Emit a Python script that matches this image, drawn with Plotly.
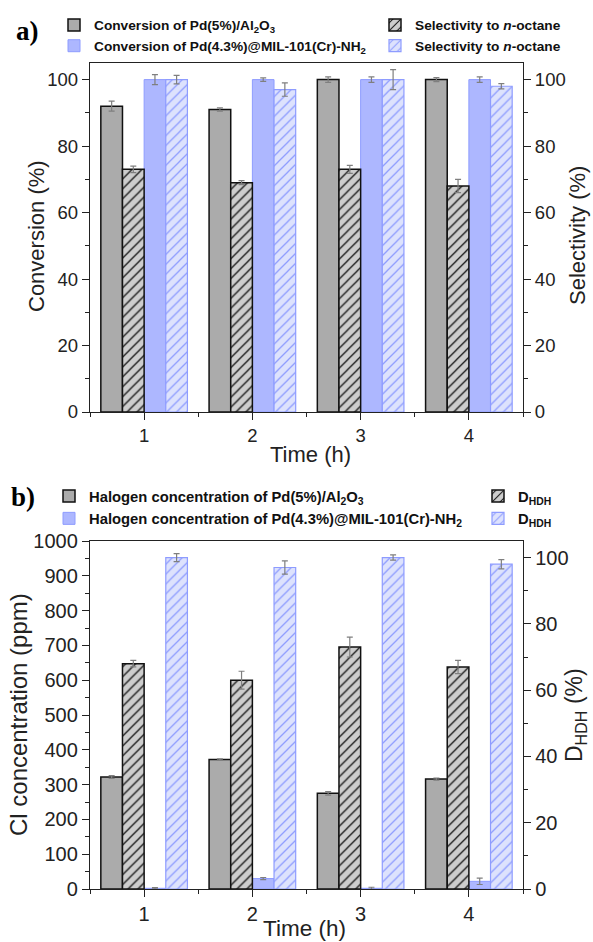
import plotly.graph_objects as go

# ---------------- data ----------------
times = [1, 2, 3, 4]

# panel a
conv_al = [92, 91, 100, 100]
conv_al_err = [1.5, 0.5, 0.8, 0.6]
sel_al = [73, 69, 73, 68]
sel_al_err = [1.0, 0.6, 1.2, 2.0]
conv_mil = [100, 100, 100, 100]
conv_mil_err = [1.5, 0.5, 0.8, 0.8]
sel_mil = [100, 97, 100, 98]
sel_mil_err = [1.3, 2.0, 3.0, 0.8]

# panel b
hal_al = [322, 372, 275, 316]
hal_al_err = [4, 2, 5, 3]
dhdh_al = [68, 63, 73, 67]
dhdh_al_err = [1.0, 2.7, 3.0, 2.0]
hal_mil = [2, 30, 2, 22]
hal_mil_err = [2, 3, 3, 9]
dhdh_mil = [100, 97, 100, 98]
dhdh_mil_err = [1.2, 2.0, 0.8, 1.4]

# ---------------- geometry helpers ----------------
W, H = 593, 942
L, R, T, B = 90, 70, 63, 53
PW, PH = W - L - R, H - T - B


def py(p):
    return (H - B - p) / PH


def px(p):
    return (p - L) / PW


FONT = "Liberation Sans, Arial, sans-serif"
SERIF = "Liberation Serif, Times New Roman, serif"
GRAY_FILL = "#ababab"
GRAY_HATCH_BG = "#cdcdcd"
BLUE_FILL = "#adb7ff"
BLUE_LINE = "#8e9cff"
BLUE_HATCH_BG = "#dde2fd"
ERR = dict(type="data", color="#7f7f7f", thickness=1.2, width=3)
INK = "#222222"

fig = go.Figure()


def add_bar(y, err, offset, name, legend, xa, ya, fill, line_color, line_w, hatch=None):
    marker = dict(color=fill, line=dict(color=line_color, width=line_w))
    if hatch is not None:
        marker["pattern"] = dict(shape="/", fgcolor=hatch, bgcolor=fill, size=7,
                                 solidity=0.18, fillmode="replace")
    fig.add_trace(go.Bar(
        x=times, y=y, width=0.2, offset=offset, name=name, legend=legend,
        xaxis=xa, yaxis=ya, marker=marker,
        error_y=dict(ERR, array=err),
    ))


# panel a
add_bar(conv_al, conv_al_err, -0.4, "Conversion of Pd(5%)/Al<sub>2</sub>O<sub>3</sub>",
        "legend", "x", "y", GRAY_FILL, "#111111", 1.5)
add_bar(sel_al, sel_al_err, -0.2, "Selectivity to <i>n</i>-octane",
        "legend2", "x", "y2", GRAY_HATCH_BG, "#111111", 1.5, hatch="#111111")
add_bar(conv_mil, conv_mil_err, 0.0, "Conversion of Pd(4.3%)@MIL-101(Cr)-NH<sub>2</sub>",
        "legend", "x", "y", BLUE_FILL, BLUE_LINE, 1)
add_bar(sel_mil, sel_mil_err, 0.2, "Selectivity to <i>n</i>-octane",
        "legend2", "x", "y2", BLUE_HATCH_BG, BLUE_LINE, 1.2, hatch=BLUE_LINE)

# panel b
add_bar(hal_al, hal_al_err, -0.4, "Halogen concentration of Pd(5%)/Al<sub>2</sub>O<sub>3</sub>",
        "legend3", "x2", "y3", GRAY_FILL, "#111111", 1.5)
add_bar(dhdh_al, dhdh_al_err, -0.2, "D<sub>HDH</sub>",
        "legend4", "x2", "y4", GRAY_HATCH_BG, "#111111", 1.5, hatch="#111111")
add_bar(hal_mil, hal_mil_err, 0.0, "Halogen concentration of Pd(4.3%)@MIL-101(Cr)-NH<sub>2</sub>",
        "legend3", "x2", "y3", BLUE_FILL, BLUE_LINE, 1)
add_bar(dhdh_mil, dhdh_mil_err, 0.2, "D<sub>HDH</sub>",
        "legend4", "x2", "y4", BLUE_HATCH_BG, BLUE_LINE, 1.2, hatch=BLUE_LINE)


def axis(size, **kw):
    d = dict(showline=True, linecolor=INK, linewidth=1.3, ticks="outside",
             ticklen=7, tickwidth=1.2, tickcolor=INK, showgrid=False, zeroline=False,
             tickfont=dict(family=FONT, size=size, color=INK))
    d.update(kw)
    return d


def minor(t0, dt):
    return dict(ticks="outside", ticklen=4, tickwidth=1.1, tick0=t0, dtick=dt, tickcolor=INK)


top_dom = [py(412), 1.0]
bot_dom = [0.0, py(541)]

LEG = dict(xref="container", yref="container", xanchor="left", yanchor="top",
           bgcolor="rgba(0,0,0,0)", tracegroupgap=0, itemwidth=30)
LEG_TOP = dict(LEG, font=dict(family=FONT, size=13.7, color="#111111", weight="bold"))
LEG_BOT = dict(LEG, font=dict(family=FONT, size=14.8, color="#111111", weight="bold"))


def title(text, xpix, ypix, size, angle=0):
    return dict(text=text, x=px(xpix), y=py(ypix), xref="paper", yref="paper",
                xanchor="center", yanchor="middle", showarrow=False, textangle=angle,
                font=dict(family=FONT, size=size, color=INK))


fig.update_layout(
    width=W, height=H, margin=dict(l=L, r=R, t=T, b=B, autoexpand=False),
    paper_bgcolor="white", plot_bgcolor="white",
    barmode="overlay", showlegend=True,
    xaxis=axis(18.5, domain=[0, 1], anchor="y", range=[0.5, 4.5], tickmode="linear",
               tick0=1, dtick=1, mirror=True, minor=minor(0.5, 1)),
    yaxis=axis(18.5, domain=top_dom, anchor="x", range=[0, 105], tickmode="linear",
               tick0=0, dtick=20, minor=minor(0, 10)),
    yaxis2=axis(18.5, overlaying="y", side="right", anchor="x", range=[0, 105],
                tickmode="linear", tick0=0, dtick=20, minor=minor(0, 10)),
    xaxis2=axis(20, domain=[0, 1], anchor="y3", range=[0.5, 4.5], tickmode="linear",
                tick0=1, dtick=1, mirror=True, minor=minor(0.5, 1)),
    yaxis3=axis(20, domain=bot_dom, anchor="x2", range=[0, 1000], tickmode="linear",
                tick0=0, dtick=100, minor=minor(0, 50)),
    yaxis4=axis(20, overlaying="y3", side="right", anchor="x2", range=[0, 105],
                tickmode="linear", tick0=0, dtick=20, minor=minor(0, 10)),
    legend=dict(LEG_TOP, x=54 / W, y=1 - 9.5 / H),
    legend2=dict(LEG_TOP, x=375 / W, y=1 - 9.5 / H),
    legend3=dict(LEG_BOT, x=49 / W, y=1 - 480 / H),
    legend4=dict(LEG_BOT, x=478 / W, y=1 - 480 / H),
    annotations=[
        dict(text="<b>a)</b>", x=px(27), y=py(31), xref="paper", yref="paper",
             xanchor="center", yanchor="middle", showarrow=False,
             font=dict(family=SERIF, size=27, color="black")),
        dict(text="<b>b)</b>", x=px(23), y=py(497), xref="paper", yref="paper",
             xanchor="center", yanchor="middle", showarrow=False,
             font=dict(family=SERIF, size=27, color="black")),
        title("Conversion (%)", 37, 236, 22, -90),
        title("Selectivity (%)", 578, 236, 22, -90),
        title("Time (h)", 310, 455, 22),
        title("Cl concentration (ppm)", 18, 715, 24, -90),
        title("D<sub>HDH</sub> (%)", 575, 715, 23, -90),
        title("Time (h)", 304, 928, 22.5),
    ],
)

fig.write_html("out.html")
